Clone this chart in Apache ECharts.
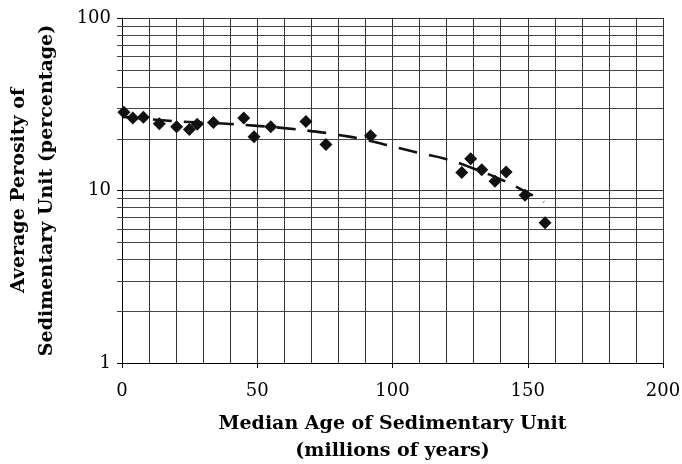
<!DOCTYPE html>
<html>
<head>
<meta charset="utf-8">
<script src="https://cdn.jsdelivr.net/npm/echarts@6/dist/echarts.min.js"></script>
<style>
  html, body { margin: 0; padding: 0; background: #fff; }
  #chart { width: 682px; height: 464px; }
</style>
</head>
<body>
<div id="chart"></div>
<script>
// measured points: median age (Ma) vs average porosity (%)
const ages = [0.7, 4.0, 7.9, 13.8, 20.2, 24.9, 27.8, 33.8, 45.0, 48.8, 55.0, 68.0, 75.4, 91.9,
  125.6, 128.9, 133.0, 137.9, 142.0, 149.0, 156.4];
const porosity = [28.4, 26.3, 26.6, 24.4, 23.4, 22.6, 24.2, 24.8, 26.3, 20.5, 23.4, 25.1, 18.5, 20.8,
  12.7, 15.3, 13.2, 11.3, 12.8, 9.4, 6.5];

// dashed trend line
const trendAges = [0, 10, 20, 30, 40, 50, 60, 70, 80, 90, 100, 110, 120, 130, 140, 150, 156];
const trendValues = [26.8, 25.9, 25.2, 24.7, 24.3, 23.7, 23.0, 22.1, 21.0, 19.7, 18.0, 16.5, 15.2, 13.4, 11.6, 9.7, 8.6];

// minor log grid lines
const minorTicks = [2, 3, 4, 5, 6, 7, 8, 9, 20, 30, 40, 50, 60, 70, 80, 90];

const xMin = 0, xMax = 200;
const font = "DejaVu Serif";

let chartDom = document.getElementById("chart");
let myChart = echarts.init(chartDom);

let option = {
  animation: false,
  backgroundColor: "#fff",
  textStyle: { fontFamily: font, color: "#000" },
  grid: { left: 122, right: 19, top: 18, bottom: 101, outerBoundsMode: "none" },
  xAxis: {
    type: "value",
    min: xMin,
    max: xMax,
    interval: 50,
    name: "Median Age of Sedimentary Unit\n(millions of years)",
    nameLocation: "middle",
    nameGap: 48,
    nameTextStyle: { fontFamily: font, fontSize: 19, fontWeight: "bold", color: "#000", lineHeight: 27 },
    axisLine: { show: true, lineStyle: { color: "#000", width: 1 } },
    axisTick: { show: true, length: 5, lineStyle: { color: "#000" } },
    axisLabel: { fontFamily: font, fontSize: 18, color: "#000", margin: 19 },
    splitLine: { show: true, lineStyle: { color: "#333", width: 1 } },
    minorTick: { show: false, splitNumber: 5 },
    minorSplitLine: { show: true, lineStyle: { color: "#333", width: 1 } },
  },
  yAxis: {
    type: "log",
    logBase: 10,
    min: 1,
    max: 100,
    name: "Average Perosity of\nSedimentary Unit (percentage)",
    nameLocation: "middle",
    nameRotate: 90,
    nameGap: 61,
    nameTextStyle: { fontFamily: font, fontSize: 19, fontWeight: "bold", color: "#000", lineHeight: 28 },
    axisLine: { show: true, lineStyle: { color: "#000", width: 1 } },
    axisTick: { show: true, length: 5, lineStyle: { color: "#000" } },
    axisLabel: { fontFamily: font, fontSize: 18, color: "#000", margin: 11 },
    splitLine: { show: true, lineStyle: { color: "#333", width: 1 } },
  },
  series: [
    {
      // minor horizontal grid lines with their outward ticks
      type: "custom",
      silent: true,
      clip: false,
      z: 1,
      encode: { x: 0, y: 1 },
      data: minorTicks.map((v) => [xMin, v]),
      renderItem(params, api) {
        let v = api.value(1);
        let p0 = api.coord([xMin, v]);
        let p1 = api.coord([xMax, v]);
        let y = Math.round(p0[1]) + 0.5;
        return {
          type: "line",
          shape: { x1: p0[0] - 5, y1: y, x2: p1[0], y2: y },
          style: { stroke: "#444", lineWidth: 1 },
        };
      },
    },
    {
      name: "trend",
      type: "line",
      smooth: true,
      showSymbol: false,
      z: 3,
      data: trendAges.map((a, i) => [a, trendValues[i]]),
      lineStyle: { color: "#111", width: 2.6, type: [19, 12] },
    },
    {
      name: "porosity",
      type: "scatter",
      symbol: "diamond",
      symbolSize: 13,
      z: 4,
      data: ages.map((a, i) => [a, porosity[i]]),
      itemStyle: { color: "#111", opacity: 1 },
    },
  ],
};

option && myChart.setOption(option);
</script>
</body>
</html>
